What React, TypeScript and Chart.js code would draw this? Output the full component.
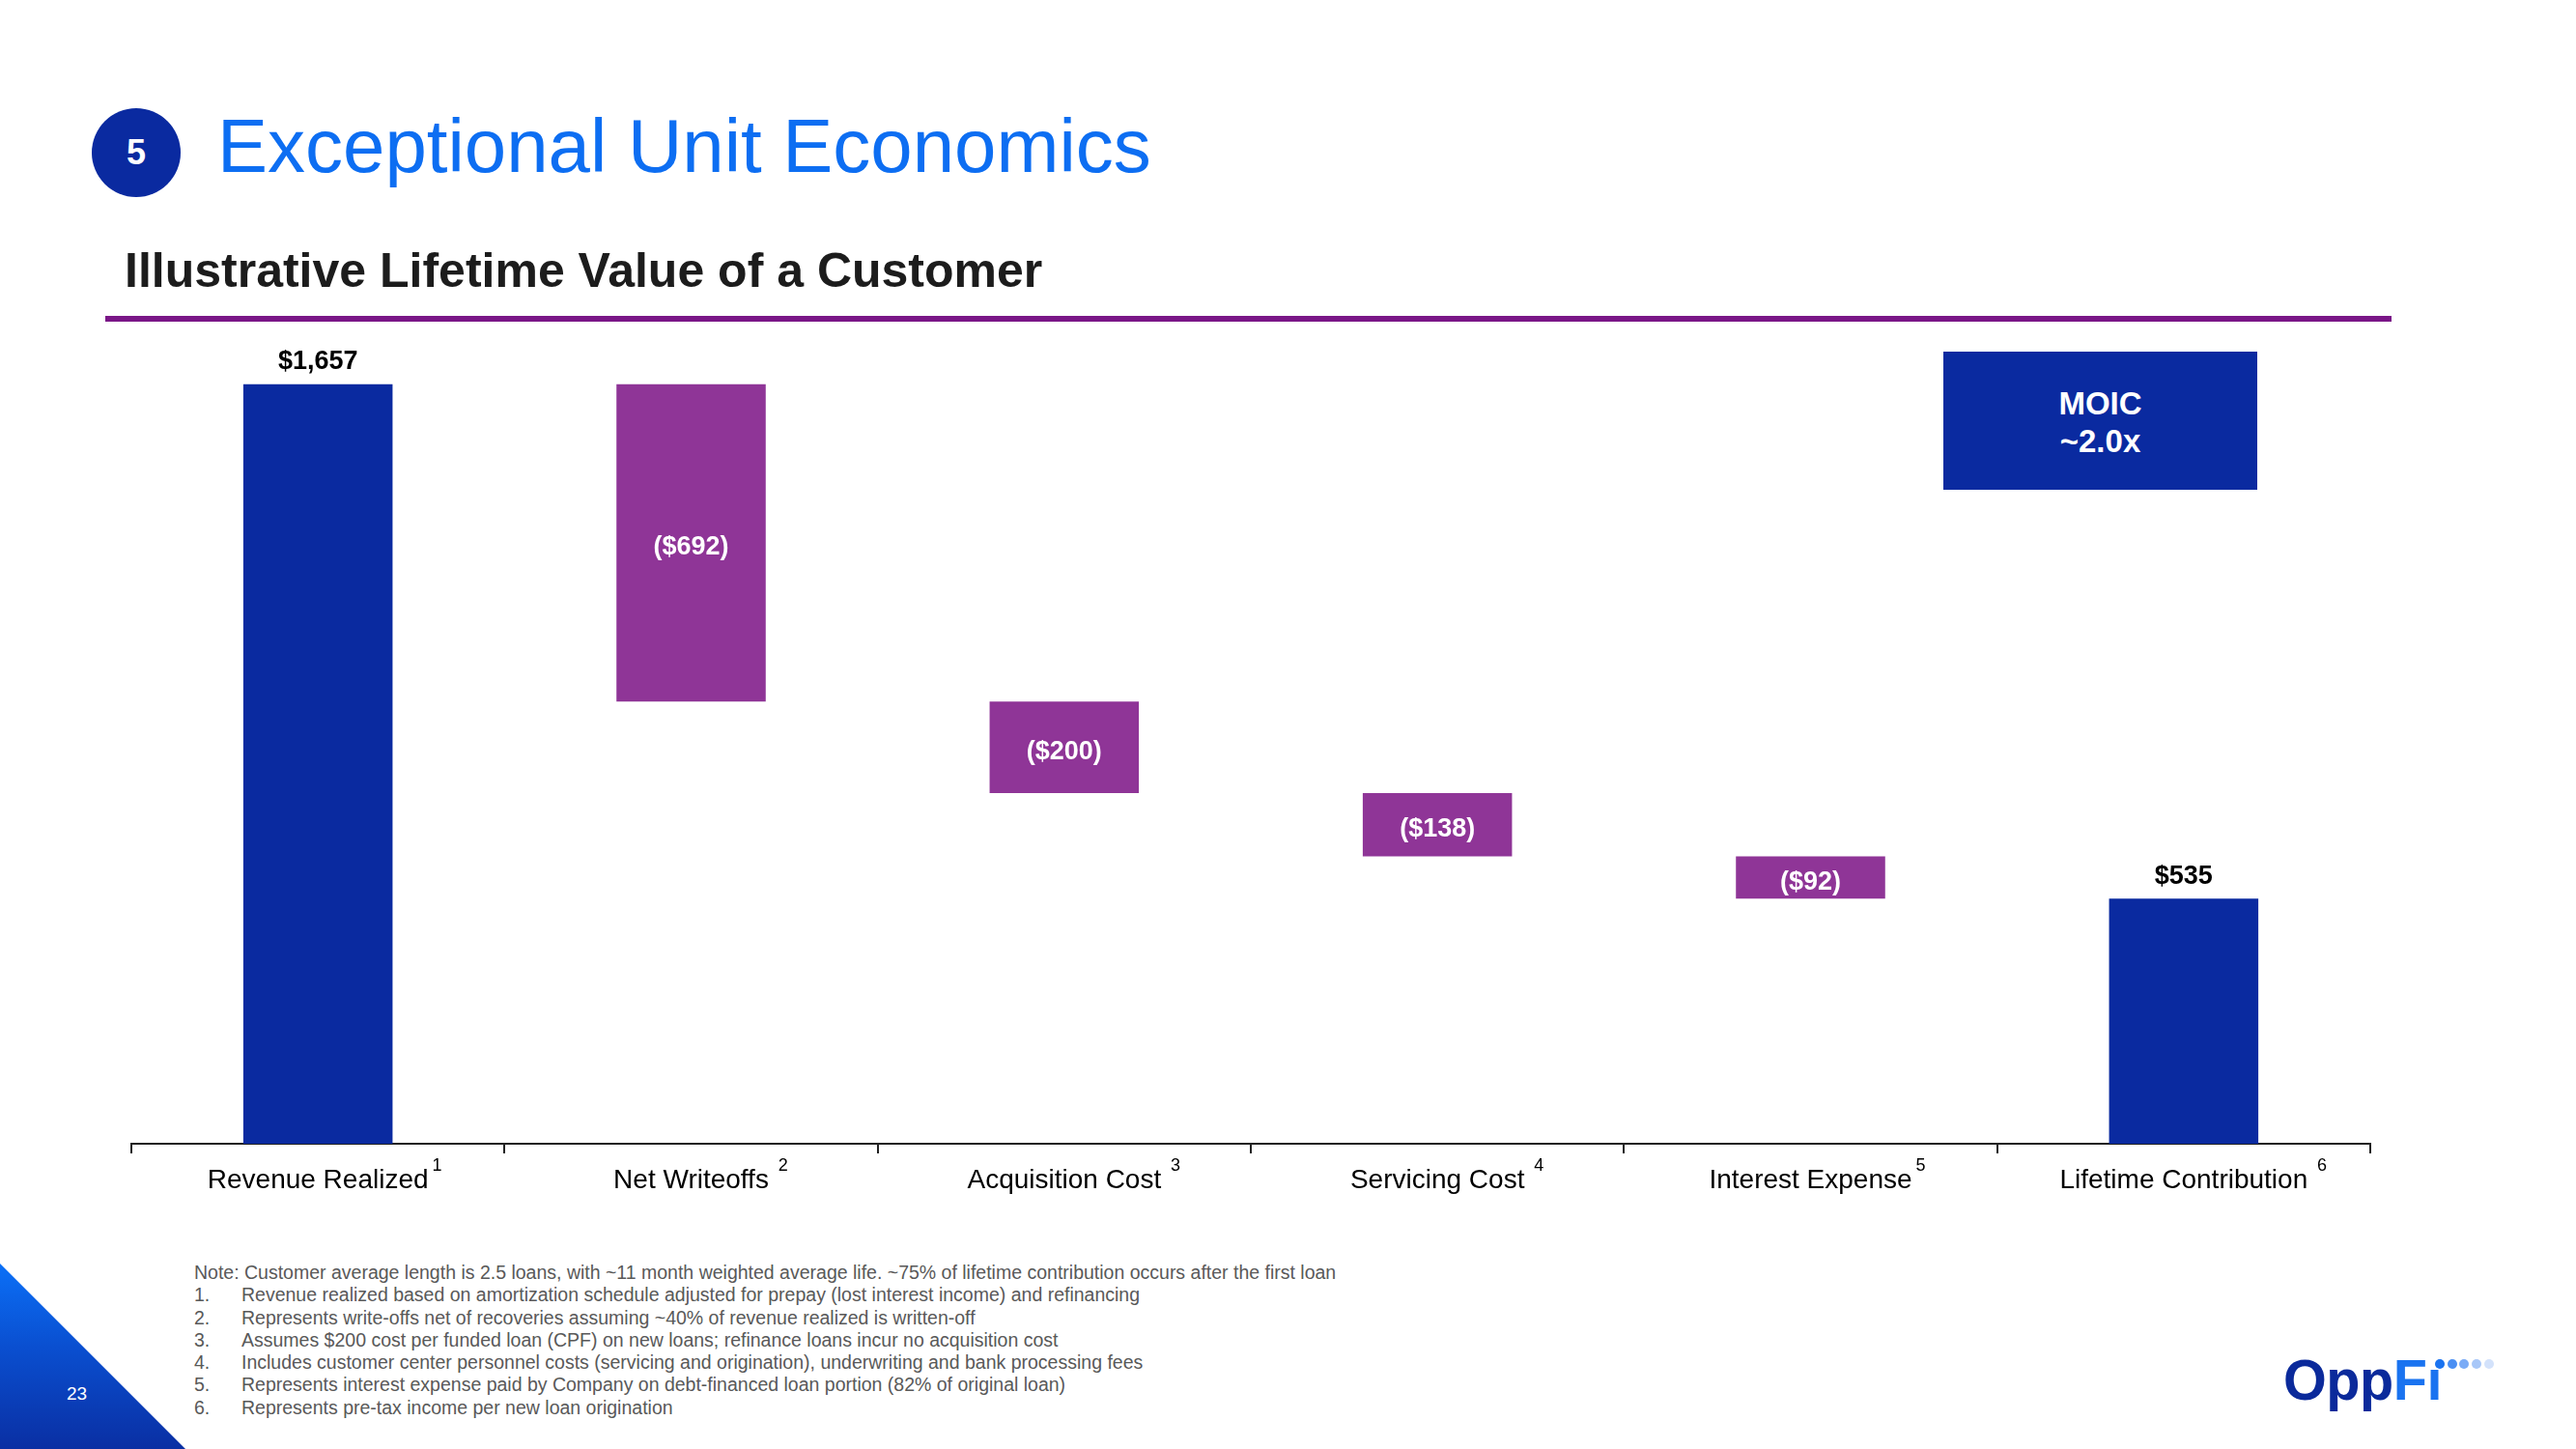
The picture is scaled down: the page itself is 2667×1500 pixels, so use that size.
import React, { useEffect, useRef } from "react";
import { Chart, registerables } from "chart.js";

Chart.register(...registerables);

// ---------- data ----------
const categories = [
  "Revenue Realized",
  "Net Writeoffs",
  "Acquisition Cost",
  "Servicing Cost",
  "Interest Expense",
  "Lifetime Contribution",
];
const footnoteMarks = ["1", "2", "3", "4", "5", "6"];
const markSpaced = [false, true, true, true, false, true];
const values = [1657, -692, -200, -138, -92, 535];
const isTotal = [true, false, false, false, false, true];
const valueLabels = ["$1,657", "($692)", "($200)", "($138)", "($92)", "$535"];
const moicLines = ["MOIC", "~2.0x"];
const noteLine =
  "Note: Customer average length is 2.5 loans, with ~11 month weighted average life. ~75% of lifetime contribution occurs after the first loan";
const footnotes = [
  "Revenue realized based on amortization schedule adjusted for prepay (lost interest income) and refinancing",
  "Represents write-offs net of recoveries assuming ~40% of revenue realized is written-off",
  "Assumes $200 cost per funded loan (CPF) on new loans; refinance loans incur no acquisition cost",
  "Includes customer center personnel costs (servicing and origination), underwriting and bank processing fees",
  "Represents interest expense paid by Company on debt-financed loan portion (82% of original loan)",
  "Represents pre-tax income per new loan origination",
];
const yMax = 1800;

// ---------- styles ----------
const FONT = '"Liberation Sans", Arial, Helvetica, sans-serif';
const NAVY = "#0a2aa0";
const PURPLE = "#8f3597";
const PURPLE_LINE = "#7a1687";
const TITLE_BLUE = "#0d6ef2";

// waterfall ranges built from the read values
const ranges: [number, number][] = (() => {
  let run = 0;
  return values.map((v, i) => {
    if (isTotal[i]) {
      run = v;
      return [0, v] as [number, number];
    }
    const top = run;
    run = run + v;
    return [run, top] as [number, number];
  });
})();

const labelPlugin = {
  id: "waterfallLabels",
  afterDatasetsDraw(chart: any) {
    const ctx = chart.ctx;
    const meta = chart.getDatasetMeta(0);
    ctx.save();
    ctx.textAlign = "center";
    ctx.textBaseline = "middle";
    ctx.font = `bold 27px ${FONT}`;
    meta.data.forEach((bar: any, i: number) => {
      const { x, y, base } = bar.getProps(["x", "y", "base"], true);
      if (isTotal[i]) {
        ctx.fillStyle = "#000";
        ctx.fillText(valueLabels[i], x, Math.min(y, base) - 23);
      } else {
        ctx.fillStyle = "#fff";
        ctx.fillText(valueLabels[i], x, (y + base) / 2 + 5);
      }
    });
    ctx.restore();
  },
  afterDraw(chart: any) {
    const ctx = chart.ctx;
    const xs = chart.scales.x;
    const bottom = chart.chartArea.bottom;
    ctx.save();
    categories.forEach((c, i) => {
      ctx.font = `28px ${FONT}`;
      const w = ctx.measureText(c).width;
      const sp = ctx.measureText(" ").width;
      const cx = xs.getPixelForValue(i);
      const sx = cx + w / 2 + (markSpaced[i] ? sp + 2 : 4);
      ctx.font = `18px ${FONT}`;
      ctx.fillStyle = "#000";
      ctx.textAlign = "left";
      ctx.textBaseline = "alphabetic";
      ctx.fillText(footnoteMarks[i], sx, bottom + 28);
    });
    ctx.restore();
  },
};

function WaterfallChart() {
  const ref = useRef<HTMLCanvasElement | null>(null);
  useEffect(() => {
    if (!ref.current) return;
    const chart = new Chart(ref.current, {
      type: "bar",
      data: {
        labels: categories,
        datasets: [
          {
            data: ranges as any,
            backgroundColor: isTotal.map((t) => (t ? NAVY : PURPLE)),
            borderWidth: 0,
            barPercentage: 0.4,
            categoryPercentage: 1.0,
          },
        ],
      },
      options: {
        animation: false,
        responsive: false,
        maintainAspectRatio: false,
        layout: { padding: { left: 10, right: 10, top: 0, bottom: 0 } },
        plugins: {
          legend: { display: false },
          tooltip: { enabled: false },
        },
        scales: {
          x: {
            grid: {
              display: true,
              drawOnChartArea: false,
              drawTicks: true,
              tickLength: 10,
              color: "#222",
              lineWidth: 2,
              offset: true,
            },
            border: { display: true, color: "#222", width: 2 },
            ticks: {
              color: "#000",
              font: { family: FONT, size: 28 },
              padding: 11,
              maxRotation: 0,
              autoSkip: false,
            },
            afterFit: (s: any) => {
              s.height = 80;
            },
          } as any,
          y: { display: false, min: 0, max: yMax },
        },
      },
      plugins: [labelPlugin],
    });
    return () => chart.destroy();
  }, []);
  return <canvas ref={ref} width={2338} height={934} style={{ display: "block" }} />;
}

export default function App() {
  const abs = (o: React.CSSProperties): React.CSSProperties => ({ position: "absolute", ...o });
  return (
    <div
      style={{
        position: "absolute",
        left: 0,
        top: 0,
        width: 2667,
        height: 1500,
        background: "#fff",
        overflow: "hidden",
        fontFamily: FONT,
      }}
    >
      {/* section number */}
      <div
        style={abs({
          left: 95,
          top: 112,
          width: 92,
          height: 92,
          borderRadius: "50%",
          background: NAVY,
          color: "#fff",
          fontWeight: "bold",
          fontSize: 36,
          display: "flex",
          alignItems: "center",
          justifyContent: "center",
          lineHeight: 1,
        })}
      >
        5
      </div>
      <div style={abs({ left: 225, top: 112, fontSize: 78, lineHeight: 1, color: TITLE_BLUE, whiteSpace: "nowrap" })}>
        Exceptional Unit Economics
      </div>
      <div
        style={abs({
          left: 129,
          top: 255,
          fontSize: 50,
          lineHeight: 1,
          fontWeight: "bold",
          color: "#1c1c1c",
          whiteSpace: "nowrap",
        })}
      >
        Illustrative Lifetime Value of a Customer
      </div>
      <div style={abs({ left: 109, top: 327, width: 2367, height: 6, background: PURPLE_LINE })} />

      {/* chart */}
      <div style={abs({ left: 126, top: 330 })}>
        <WaterfallChart />
      </div>

      {/* MOIC box */}
      <div style={abs({ left: 2012, top: 364, width: 325, height: 143, background: NAVY, color: "#fff" })}>
        {moicLines.map((t, i) => (
          <div
            key={i}
            style={abs({
              left: 0,
              width: 325,
              top: 37 + i * 39,
              textAlign: "center",
              fontWeight: "bold",
              fontSize: 33,
              lineHeight: 1,
            })}
          >
            {t}
          </div>
        ))}
      </div>

      {/* footnotes */}
      <div style={abs({ left: 201, top: 1306, fontSize: 19.5, lineHeight: "23.3px", color: "#595959", whiteSpace: "nowrap" })}>
        <div>{noteLine}</div>
        {footnotes.map((f, i) => (
          <div key={i} style={{ position: "relative" }}>
            <span>{i + 1}.</span>
            <span style={{ position: "absolute", left: 49 }}>{f}</span>
          </div>
        ))}
      </div>

      {/* corner triangle */}
      <div
        style={abs({
          left: 0,
          top: 1308,
          width: 192,
          height: 192,
          background: "linear-gradient(to bottom, #0b70f7 0%, #0a4fd0 45%, #0a2fa3 100%)",
          clipPath: "polygon(0 0, 100% 100%, 0 100%)",
        })}
      />
      <div style={abs({ left: 69, top: 1433, fontSize: 19, lineHeight: 1, color: "#fff" })}>23</div>

      {/* logo */}
      <div
        style={abs({
          left: 2364,
          top: 1399,
          fontSize: 60,
          lineHeight: 1,
          fontWeight: "bold",
          transform: "scaleX(0.96)",
          transformOrigin: "left top",
          whiteSpace: "nowrap",
          letterSpacing: -0.5,
        })}
      >
        <span style={{ color: "#0b2a9b" }}>Opp</span>
        <span style={{ color: "#1a73f0" }}>{"F\u0131"}</span>
      </div>
      {["#1a73f0", "#4a8ff3", "#7aabf6", "#a8c7f8", "#d3e2fb"].map((c, i) => (
        <div
          key={i}
          style={abs({
            left: 2526 + i * 12.7 - 5,
            top: 1412 - 5,
            width: 10,
            height: 10,
            borderRadius: "50%",
            background: c,
          })}
        />
      ))}
    </div>
  );
}
